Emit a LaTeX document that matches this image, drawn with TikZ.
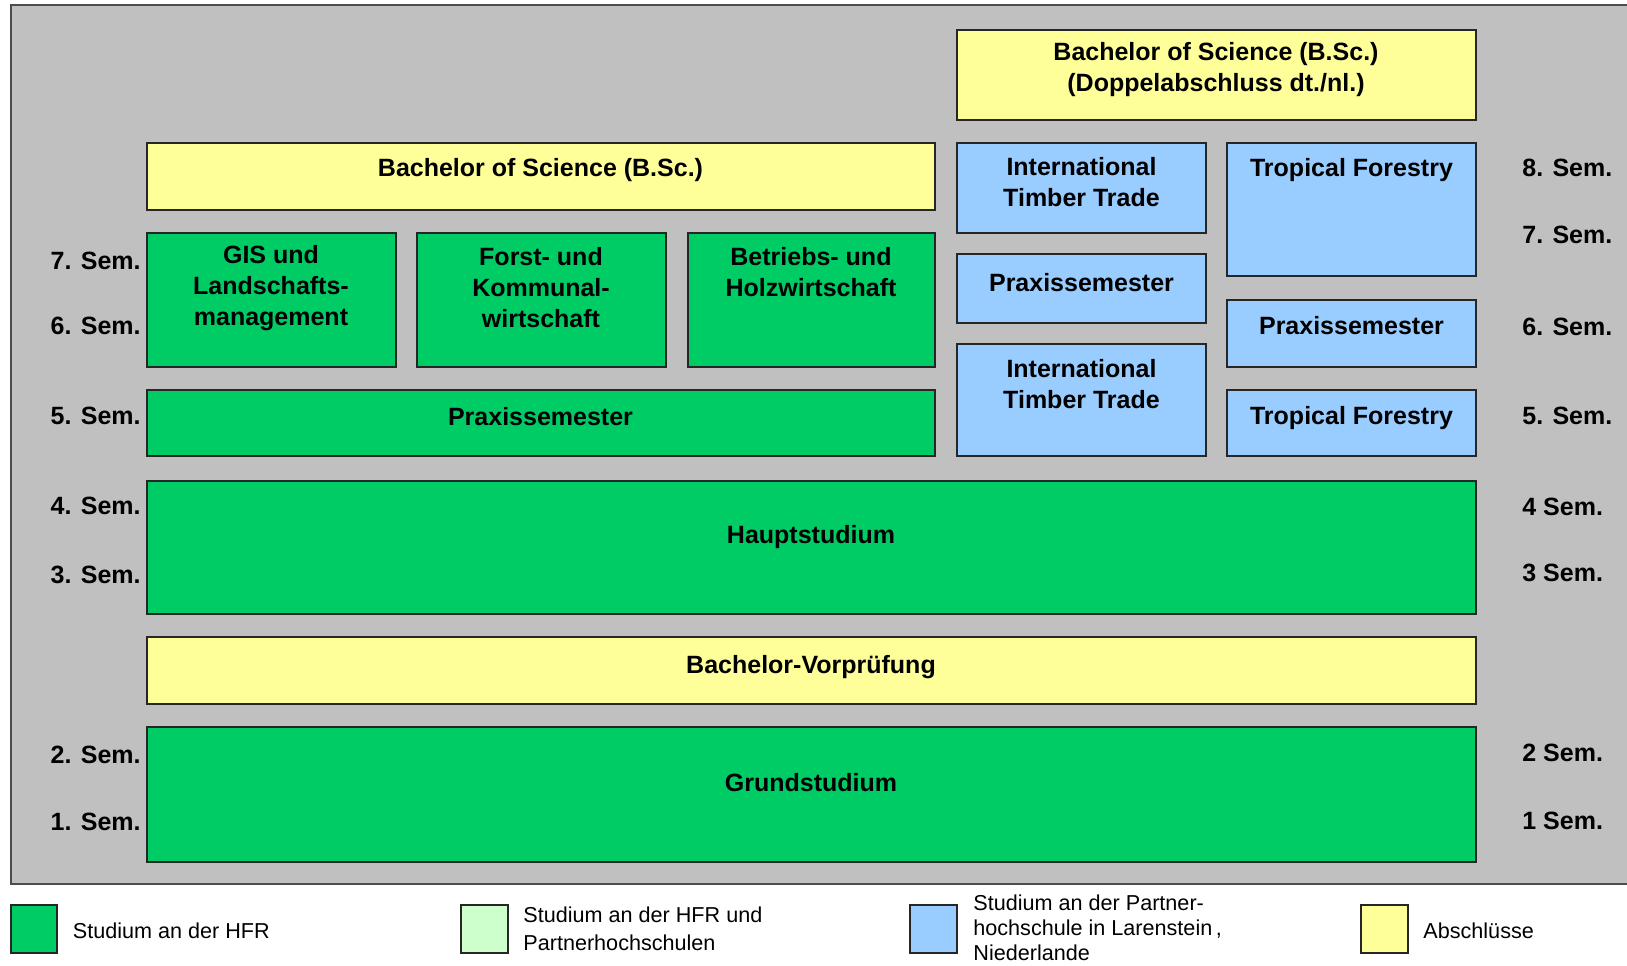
\documentclass[tikz,border=0pt]{standalone}
\usepackage{fontspec}
\setmainfont{Liberation Sans}
\usetikzlibrary{fit}
\definecolor{bg}{HTML}{C0C0C0}
\definecolor{hfr}{HTML}{00CC66}
\definecolor{both}{HTML}{CCFFCC}
\definecolor{nl}{HTML}{99CCFF}
\definecolor{abs}{HTML}{FFFF99}
\begin{document}
\begin{tikzpicture}[x=0.5pt,y=-0.5pt,
  box/.style={draw=black!85, line width=1pt, inner sep=0pt, fill=#1},
  lbl/.style={font=\fontsize{12.5}{15.5}\selectfont\bfseries, align=center, inner sep=0pt},
  sem/.style={font=\fontsize{12.5}{15}\selectfont\bfseries, inner sep=0pt},
  leg/.style={font=\fontsize{10.8}{14}\selectfont, align=left, inner sep=0pt, anchor=west},
  legbox/.style={draw=black!85, line width=1pt, inner sep=0pt, fill=#1}]
\useasboundingbox (0,0) rectangle (1627,965);
\fill[white] (0,0) rectangle (1627,965);
% frame
\node[draw=black!70, line width=1pt, fill=bg, inner sep=0pt, fit={(10.5,5)(1640,884)}] (frame) {};
% boxes
\node[box=abs, fit={(957,29.5)(1476,120)}] (bsdd) {};
\node[box=abs, fit={(146.5,142.5)(935,210)}] (bsc) {};
\node[box=nl, fit={(957,142.5)(1206,232.5)}] (itt1) {};
\node[box=nl, fit={(1227,142.5)(1476,276)}] (tf1) {};
\node[box=nl, fit={(957,254)(1206,322.5)}] (praxnl1) {};
\node[box=nl, fit={(1227,300)(1476,366.7)}] (praxnl2) {};
\node[box=nl, fit={(957,344)(1206,456)}] (itt2) {};
\node[box=nl, fit={(1227,390)(1476,456)}] (tf2) {};
\node[box=hfr, fit={(146.5,232.5)(395.5,366.7)}] (gis) {};
\node[box=hfr, fit={(416.5,232.5)(666,366.7)}] (forst) {};
\node[box=hfr, fit={(687.5,232.5)(935,366.7)}] (betr) {};
\node[box=hfr, fit={(146.5,390)(935,456)}] (prax) {};
\node[box=hfr, fit={(146.5,480.7)(1476,614.3)}] (haupt) {};
\node[box=abs, fit={(146.5,636.7)(1476,704.3)}] (vor) {};
\node[box=hfr, fit={(146.5,726.7)(1476,862.3)}] (grund) {};
% box texts
\node[lbl] (tbsdd) at (1216,70) {Bachelor of Science (B.Sc.)\\(Doppelabschluss dt./nl.)};
\node[lbl] (tbsc) at (540.5,170) {Bachelor of Science (B.Sc.)};
\node[lbl] (titt1) at (1081.5,182) {International\\Timber Trade};
\node[lbl] (ttf1) at (1351.5,170) {Tropical Forestry};
\node[lbl] (tpraxnl1) at (1081.5,283) {Praxissemester};
\node[lbl] (tpraxnl2) at (1351.5,326) {Praxissemester};
\node[lbl] (titt2) at (1081.5,384) {International\\Timber Trade};
\node[lbl] (ttf2) at (1351.5,418) {Tropical Forestry};
\node[lbl] (tgis) at (271,288) {GIS und\\Landschafts-\\management};
\node[lbl] (tforst) at (541,288) {Forst- und\\Kommunal-\\wirtschaft};
\node[lbl] (tbetr) at (811,272) {Betriebs- und\\Holzwirtschaft};
\node[lbl] (tprax) at (540.5,417) {Praxissemester};
\node[lbl] (thaupt) at (811,537) {Hauptstudium};
\node[lbl] (tvor) at (811,667) {Bachelor-Vorprüfung};
\node[lbl] (tgrund) at (811,783) {Grundstudium};
% semester labels left
\node[sem, anchor=east] (l7) at (141,260.7) {7. Sem.};
\node[sem, anchor=east] (l6) at (141,326) {6. Sem.};
\node[sem, anchor=east] (l5) at (141,416) {5. Sem.};
\node[sem, anchor=east] (l4) at (141,506) {4. Sem.};
\node[sem, anchor=east] (l3) at (141,574.5) {3. Sem.};
\node[sem, anchor=east] (l2) at (141,755) {2. Sem.};
\node[sem, anchor=east] (l1) at (141,822) {1. Sem.};
% semester labels right
\node[sem, anchor=west] (r8) at (1522,168.3) {8. Sem.};
\node[sem, anchor=west] (r7) at (1522,235) {7. Sem.};
\node[sem, anchor=west] (r6) at (1522,326.7) {6. Sem.};
\node[sem, anchor=west] (r5) at (1522,415.5) {5. Sem.};
\node[sem, anchor=west] (r4) at (1522,507) {4 Sem.};
\node[sem, anchor=west] (r3) at (1522,573) {3 Sem.};
\node[sem, anchor=west] (r2) at (1522,753) {2 Sem.};
\node[sem, anchor=west] (r1) at (1522,820.5) {1 Sem.};
% legend
\node[legbox=hfr, fit={(10.5,905)(57,953)}] (lg1) {};
\node[leg] (lt1) at (72.5,930.5) {Studium an der HFR};
\node[legbox=both, fit={(460.5,905)(508,953)}] (lg2) {};
\node[leg] (lt2) at (523,929) {Studium an der HFR und\\Partnerhochschulen};
\node[legbox=nl, fit={(910,905)(956.5,953)}] (lg3) {};
\node[leg, font=\fontsize{10.8}{12.5}\selectfont] (lt3) at (973,928) {Studium an der Partner-\\hochschule in Larenstein\,,\\Niederlande};
\node[legbox=abs, fit={(1361,905)(1407.5,953)}] (lg4) {};
\node[leg] (lt4) at (1423,930.5) {Abschlüsse};
\end{tikzpicture}
\end{document}
